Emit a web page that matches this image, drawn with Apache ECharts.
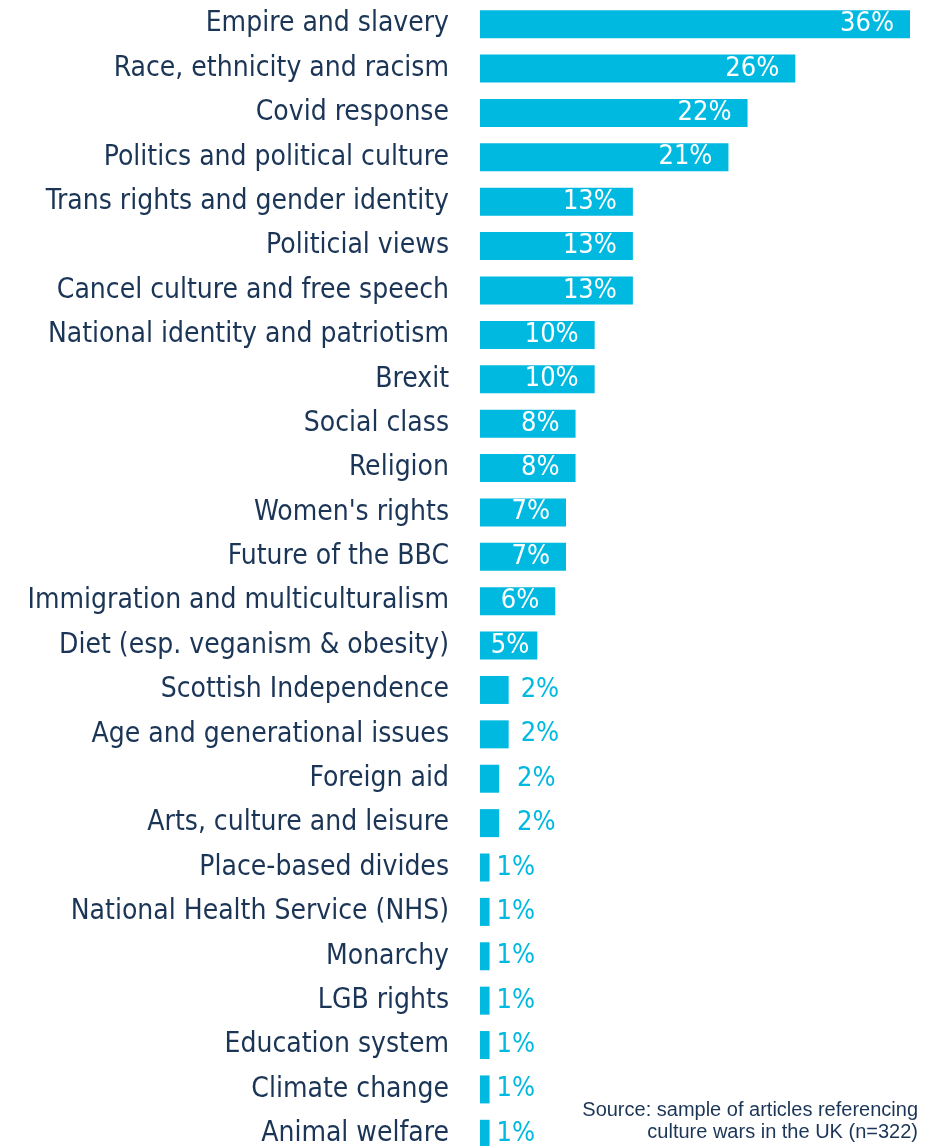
<!DOCTYPE html>
<html><head><meta charset="utf-8">
<script src="https://cdn.jsdelivr.net/npm/echarts@6/dist/echarts.min.js"></script>
<style>html,body{margin:0;padding:0;background:#fff}#c{width:925px;height:1146px}</style>
</head><body><div id="c"></div>
<script>
const categories = ["Empire and slavery","Race, ethnicity and racism","Covid response","Politics and political culture","Trans rights and gender identity","Politicial views","Cancel culture and free speech","National identity and patriotism","Brexit","Social class","Religion","Women's rights","Future of the BBC","Immigration and multiculturalism","Diet (esp. veganism & obesity)","Scottish Independence","Age and generational issues","Foreign aid","Arts, culture and leisure","Place-based divides","National Health Service (NHS)","Monarchy","LGB rights","Education system","Climate change","Animal welfare"];
const values = [36.0,26.4,22.4,20.8,12.8,12.8,12.8,9.6,9.6,8.0,8.0,7.2,7.2,6.3,4.8,2.4,2.4,1.6,1.6,0.8,0.8,0.8,0.8,0.8,0.8,0.8];
const labels = ["36%","26%","22%","21%","13%","13%","13%","10%","10%","8%","8%","7%","7%","6%","5%","2%","2%","2%","2%","1%","1%","1%","1%","1%","1%","1%"];
const sourceLines = ["Source: sample of articles referencing","culture wars in the UK (n=322)"];

const FONT = '"Liberation Sans Narrow","DejaVu Sans Condensed","Roboto",sans-serif';
const BAR = '#00b9e1', NAVY = '#1b3557';

const chart = echarts.init(document.getElementById('c'), null, {renderer:'canvas'});
const data = values.map((v,i)=>{
  const inside = v >= 4;
  let dist = v >= 5.5 ? 16 : 8;
  if(!inside){ dist = v >= 2 ? 12 : (v >= 1.2 ? 18 : 7); }
  return {value:v, label:{
    show:true, position: inside ? 'insideRight' : 'right', distance: dist,
    color: inside ? '#fff' : BAR, fontSize:27, fontFamily:FONT,
    formatter: labels[i]
  }};
});
chart.setOption({
  animation:false,
  grid:{left:480, right:15, top:2, height:1154, containLabel:false, outerBoundsMode:'none'},
  xAxis:{type:'value', min:0, max:36, show:false},
  yAxis:{type:'category', data:categories, inverse:true,
    axisLine:{show:false}, axisTick:{show:false}, splitLine:{show:false},
    axisLabel:{margin:31, color:NAVY, fontSize:28, fontFamily:FONT}},
  series:[{type:'bar', data:data, barWidth:28, itemStyle:{color:BAR}}],
  graphic:[
    {type:'text', x:918, y:1100, style:{text:sourceLines[0], align:'right', textAlign:'right', fill:NAVY, fontSize:20, fontFamily:'"Liberation Sans","Roboto",sans-serif'}},
    {type:'text', x:918, y:1122, style:{text:sourceLines[1], align:'right', textAlign:'right', fill:NAVY, fontSize:20, fontFamily:'"Liberation Sans","Roboto",sans-serif'}}
  ]
});
</script></body></html>
